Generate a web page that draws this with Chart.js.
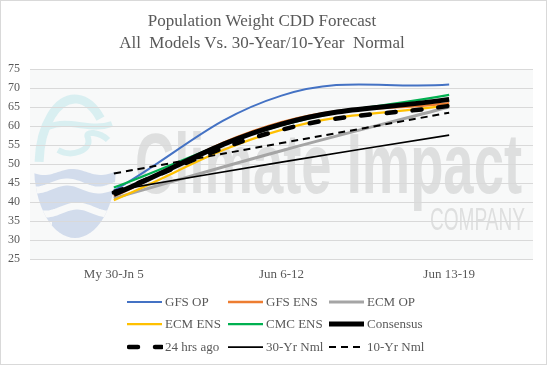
<!DOCTYPE html>
<html>
<head>
<meta charset="utf-8">
<script src="https://cdn.jsdelivr.net/npm/chart.js@4.4.1/dist/chart.umd.min.js"></script>
<style>
  html, body { margin: 0; padding: 0; background: #fff; }
  #wrap { position: relative; width: 547px; height: 365px; overflow: hidden; font-family: "Liberation Serif", "Times New Roman", serif; color: #595959; }
  #frame { position: absolute; left: 0; top: 0; width: 545px; height: 363px; border: 1px solid #d9d9d9; pointer-events: none; }
  #chart { position: absolute; left: 0; top: 0; }
  .title { position: absolute; left: 0; width: 524px; text-align: center; font-size: 17px; line-height: 22px; white-space: pre; }
  .lg { position: absolute; height: 20px; font-size: 13px; line-height: 20px; white-space: pre; }
  .lg svg { position: absolute; left: 0; top: 0; }
  .lg span { position: absolute; left: 38px; top: 0; }
</style>
</head>
<body>
<div id="wrap">
  <canvas id="chart" width="547" height="365"></canvas>
  <div class="title" style="top:10px">Population Weight CDD Forecast</div>
  <div class="title" style="top:32px">All  Models Vs. 30-Year/10-Year  Normal</div>
  <div id="legend"></div>
  <div id="frame"></div>
</div>
<script>
const categories = ['My 30-Jn 5', 'Jun 6-12', 'Jun 13-19'];
const gfsOp     = [43.0, 68.0, 70.9];
const gfsEns    = [41.5, 61.0, 66.0];
const ecmOp     = [41.0, 53.5, 65.0];
const ecmEns    = [40.5, 59.0, 65.5];
const cmcEns    = [43.8, 60.2, 68.2];
const consensus = [42.0, 60.5, 67.0];
const hrsAgo24  = [42.5, 59.0, 65.3];
const nml30     = [43.0, 50.5, 57.6];
const nml10     = [47.5, 55.5, 63.5];
const yTicks    = [25, 30, 35, 40, 45, 50, 55, 60, 65, 70, 75];

const series = [
  { label: 'GFS OP',      data: gfsOp,     color: '#4472C4', width: 2 },
  { label: 'GFS ENS',     data: gfsEns,    color: '#ED7D31', width: 2.5 },
  { label: 'ECM OP',      data: ecmOp,     color: '#A5A5A5', width: 3 },
  { label: 'ECM ENS',     data: ecmEns,    color: '#FFC000', width: 2.25 },
  { label: 'CMC ENS',     data: cmcEns,    color: '#00B050', width: 2.25 },
  { label: 'Consensus',   data: consensus, color: '#000000', width: 5 },
  { label: '24 hrs ago',  data: hrsAgo24,  color: '#000000', width: 4.5, dash: [9, 17], cap: 'round' },
  { label: '30-Yr Nml',   data: nml30,     color: '#000000', width: 1.75 },
  { label: '10-Yr Nml',   data: nml10,     color: '#000000', width: 2, dash: [7, 5] },
];

// faint company logo + plot background, drawn under the grid
const watermark = {
  id: 'watermark',
  beforeDraw(chart) {
    const { ctx, chartArea: a } = chart;
    ctx.save();
    ctx.fillStyle = '#f8f9f9';
    ctx.fillRect(a.left, a.top, a.right - a.left, a.bottom - a.top);

    // logo: egg shape, cyan top, blue waves bottom
    const cx = 75, cy = 166, rx = 41, ry = 72;
    ctx.save();
    ctx.beginPath();
    ctx.ellipse(cx, cy, rx, ry, 0, 0, Math.PI * 2);
    ctx.clip();
    ctx.fillStyle = '#d2dcec';
    ctx.beginPath();
    ctx.moveTo(cx - rx, 174);
    for (let x = cx - rx; x <= cx + rx; x += 2) ctx.lineTo(x, 172 + 3 * Math.sin((x - 30) / 9));
    ctx.lineTo(cx + rx, cy + ry);
    ctx.lineTo(cx - rx, cy + ry);
    ctx.closePath();
    ctx.fill();
    ctx.strokeStyle = '#f8f9f9';
    ctx.lineWidth = 7;
    [186, 210].forEach((y0, i) => {
      ctx.beginPath();
      for (let x = cx - rx; x <= cx + rx; x += 2) {
        const y = y0 + 4 * Math.sin((x - 20 - i * 10) / 10);
        if (x === cx - rx) ctx.moveTo(x, y); else ctx.lineTo(x, y);
      }
      ctx.stroke();
    });
    ctx.fillStyle = '#f8f9f9';
    ctx.fillRect(cx - rx, 222, 18, 20);
    ctx.restore();

    ctx.strokeStyle = '#d9eff1';
    ctx.lineWidth = 9;
    ctx.beginPath();
    ctx.ellipse(cx, cy, rx - 5, ry - 5, 0, Math.PI * 1.02, Math.PI * 1.75);
    ctx.stroke();
    ctx.lineWidth = 6;
    ctx.beginPath();
    ctx.moveTo(48, 127);
    ctx.bezierCurveTo(70, 118, 90, 132, 112, 124);
    ctx.stroke();
    ctx.beginPath();
    ctx.moveTo(58, 150);
    ctx.bezierCurveTo(72, 158, 92, 150, 88, 138);
    ctx.bezierCurveTo(84, 130, 100, 132, 108, 140);
    ctx.stroke();

    // company name
    ctx.fillStyle = '#dedfdf';
    ctx.textBaseline = 'alphabetic';
    ctx.font = 'bold 85px "Liberation Sans"';
    let w = ctx.measureText('Climate Impact').width;
    ctx.save();
    ctx.translate(135, 193);
    ctx.scale(387 / w, 1);
    ctx.fillText('Climate Impact', 0, 0);
    ctx.restore();
    ctx.font = '32px "Liberation Sans"';
    w = ctx.measureText('COMPANY').width;
    ctx.translate(430, 230);
    ctx.scale(95 / w, 1);
    ctx.fillText('COMPANY', 0, 0);
    ctx.restore();
  }
};

new Chart(document.getElementById('chart').getContext('2d'), {
  type: 'line',
  data: {
    labels: categories,
    datasets: series.map((s, i) => ({
      label: s.label,
      data: s.data,
      borderColor: s.color,
      backgroundColor: s.color,
      borderWidth: s.width,
      borderDash: s.dash || [],
      borderCapStyle: s.cap || 'butt',
      pointRadius: 0,
      tension: 0.4,
      fill: false,
      order: series.length - i,
    })),
  },
  options: {
    responsive: false,
    animation: false,
    events: [],
    layout: { padding: { left: 0, right: 14, top: 69, bottom: 76 } },
    plugins: {
      legend: { display: false },
      title: { display: false },
      tooltip: { enabled: false },
    },
    scales: {
      x: {
        offset: true,
        grid: { display: false, drawTicks: false },
        border: { display: false },
        ticks: {
          color: '#595959',
          padding: 8,
          maxRotation: 0,
          font: { family: '"Liberation Serif", "Times New Roman", serif', size: 13 },
        },
        afterFit: s => { s.height = 30; },
      },
      y: {
        min: yTicks[0],
        max: yTicks[yTicks.length - 1],
        afterBuildTicks: s => { s.ticks = yTicks.map(v => ({ value: v })); },
        grid: { color: '#d9d9d9', lineWidth: 1, drawTicks: false },
        border: { display: false },
        ticks: {
          color: '#595959',
          padding: 10,
          font: { family: '"Liberation Serif", "Times New Roman", serif', size: 12 },
        },
        afterFit: s => { s.width = 30; },
      },
    },
  },
  plugins: [watermark],
});

// legend: 3 columns x 3 rows
const colX = [127, 228, 329];
const rowY = [292, 314, 337];
document.getElementById('legend').innerHTML = series.map((s, i) => {
  const x = colX[i % 3], y = rowY[Math.floor(i / 3)];
  const dash = s.dash ? `stroke-dasharray="${s.dash.join(' ')}"` : '';
  return `<div class="lg" style="left:${x}px;top:${y}px">
    <svg width="36" height="20"><line x1="${s.cap ? 2 : 0}" y1="10" x2="35" y2="10" stroke="${s.color}"
      stroke-width="${s.width}" stroke-linecap="${s.cap || 'butt'}" ${dash}/></svg>
    <span>${s.label}</span></div>`;
}).join('');
</script>
</body>
</html>
